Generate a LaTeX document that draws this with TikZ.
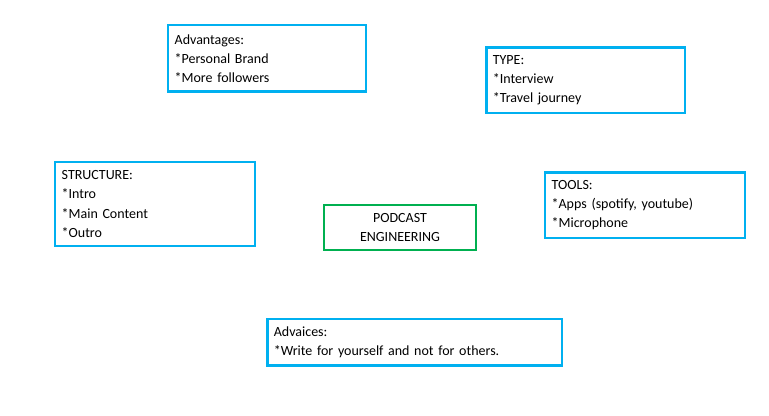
\documentclass[tikz,border=0pt]{standalone}
\usepackage{fontspec}
\setmainfont{Carlito}
\definecolor{boxblue}{RGB}{0,176,240}
\definecolor{boxgreen}{RGB}{0,176,80}
\tikzset{
  note/.style 2 args={draw=boxblue, line width=2pt, inner xsep=5pt,
    minimum width=#1, minimum height=#2, text width=#1-10pt, align=left,
    font=\fontsize{10.5}{14.3}\selectfont},
  topic/.style={draw=boxgreen, line width=1.2pt, minimum width=114pt,
    minimum height=34pt, align=center, font=\fontsize{10.5}{14.3}\selectfont}
}
\begin{document}
\begin{tikzpicture}[x=0.75pt,y=-0.75pt]
\useasboundingbox (0,0) rectangle (769,416);

%% centre
\node [topic] (podcast) at (400,227.5) {PODCAST\\ENGINEERING};

%% notes around it
\node [note={148.5pt}{50pt}] (advantages) at (267,58.5)
  {Advantages:\\{}*Personal Brand\\{}*More followers};
\node [note={149pt}{49pt}] (type) at (585.5,80.5)
  {TYPE:\\{}*Interview\\{}*Travel journey};
\node [note={150pt}{63pt}] (structure) at (155,204)
  {STRUCTURE:\\{}*Intro\\{}*Main Content\\{}*Outro};
\node [note={150pt}{49pt}] (tools) at (645,205.5)
  {TOOLS:\\{}*Apps (spotify, youtube)\\{}*Microphone};
\node [note={221pt}{35pt}] (advice) at (414.5,342.5)
  {Advaices:\\{}*Write for yourself and not for others.};

\end{tikzpicture}
\end{document}
